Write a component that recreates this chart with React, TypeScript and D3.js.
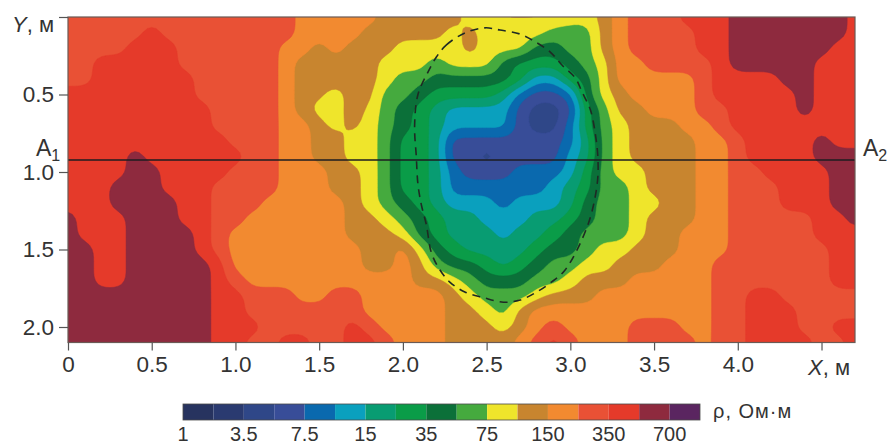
import React, { useEffect, useRef } from 'react';
import * as d3 from 'd3';

// band edges of the colour scale, Ohm*m
const thresholds = [1, 2, 3.5, 5, 7.5, 10, 15, 25, 35, 50, 75, 100, 150, 250, 350, 500, 700, 1000];
const bandColors = ['#27335f', '#2a3a70', '#2f4788', '#384d98', '#0a69ae', '#0aa0be', '#089c72', '#0a9c48', '#0b7039', '#45aa3e', '#efe52b', '#c8852f', '#f28a30', '#e95135', '#e53a2a', '#8e2a3e', '#5a2560'];
const legendLabels = ['1', '3.5', '7.5', '15', '35', '75', '150', '350', '700'];
const xTicks = [0, 0.5, 1, 1.5, 2, 2.5, 3, 3.5, 4, 4.5];
const yTicks = [0, 0.5, 1, 1.5, 2];

// resistivity, one row per 0.1 m of Y, one value per 0.1 m of X
const rho00 = [300, 300, 300, 300, 300, 300, 300, 300, 300, 300, 300, 300, 300, 300, 200, 200, 200, 200, 200, 120, 120, 120, 120, 120, 87, 87, 105, 105, 105, 105, 87, 87, 120, 200, 300, 300, 300, 420, 420, 420, 600, 600, 600, 600, 600, 600, 600, 420];
const rho01 = [300, 300, 300, 300, 300, 420, 300, 300, 300, 300, 300, 300, 300, 300, 200, 200, 200, 200, 120, 120, 120, 120, 120, 87, 120, 87, 87, 87, 87, 60, 60, 60, 120, 200, 300, 300, 300, 300, 420, 420, 600, 600, 600, 600, 600, 600, 600, 420];
const rho02 = [300, 300, 300, 300, 420, 420, 420, 300, 300, 300, 300, 300, 300, 200, 200, 120, 200, 120, 120, 120, 87, 87, 87, 87, 120, 87, 87, 87, 42, 42, 60, 60, 120, 200, 300, 300, 300, 300, 420, 420, 600, 600, 600, 600, 600, 600, 420, 420];
const rho03 = [300, 300, 420, 420, 420, 420, 420, 300, 300, 300, 300, 300, 300, 200, 120, 120, 120, 120, 120, 87, 87, 87, 60, 87, 87, 87, 42, 30, 30, 30, 42, 60, 87, 200, 200, 300, 300, 300, 300, 420, 600, 600, 600, 600, 600, 420, 420, 420];
const rho04 = [300, 300, 420, 420, 420, 420, 420, 420, 300, 300, 300, 300, 300, 200, 120, 120, 120, 120, 120, 87, 60, 60, 42, 42, 42, 42, 42, 30, 12, 12, 30, 42, 87, 200, 200, 200, 200, 200, 300, 420, 420, 420, 420, 600, 600, 420, 420, 420];
const rho05 = [420, 420, 420, 420, 420, 420, 420, 420, 300, 300, 300, 300, 300, 200, 120, 110, 87, 120, 120, 60, 60, 42, 30, 30, 30, 30, 20, 8.7, 6, 6, 8.7, 42, 87, 120, 200, 200, 200, 200, 300, 420, 420, 420, 420, 420, 600, 420, 420, 420];
const rho06 = [420, 420, 420, 420, 420, 420, 420, 420, 420, 300, 300, 300, 300, 200, 120, 87, 87, 125, 95, 60, 42, 30, 20, 12, 12, 12, 12, 6, 4.2, 4.2, 6, 30, 60, 120, 120, 200, 200, 200, 300, 300, 420, 420, 420, 420, 600, 420, 420, 420];
const rho07 = [420, 420, 420, 420, 420, 420, 420, 420, 420, 300, 300, 300, 300, 200, 200, 115, 90, 115, 87, 60, 42, 30, 20, 12, 12, 12, 12, 6, 4.2, 4.2, 8.7, 30, 60, 87, 120, 120, 120, 200, 200, 300, 420, 420, 420, 420, 420, 420, 420, 420];
const rho08 = [420, 420, 420, 420, 420, 420, 420, 420, 420, 420, 300, 300, 300, 200, 200, 120, 120, 87, 87, 60, 30, 30, 20, 6, 6, 6, 6, 6, 6, 6, 8.7, 20, 60, 87, 120, 120, 120, 120, 200, 200, 300, 420, 420, 420, 420, 600, 420, 420];
const rho09 = [420, 420, 420, 420, 600, 420, 420, 420, 420, 420, 420, 300, 300, 200, 200, 120, 120, 87, 87, 60, 30, 30, 20, 6, 6, 4.2, 6, 6, 6, 6, 12, 20, 60, 87, 120, 120, 120, 120, 200, 200, 300, 420, 420, 420, 420, 600, 600, 600];
const rho10 = [420, 420, 420, 420, 600, 600, 420, 420, 420, 420, 300, 300, 300, 200, 200, 200, 120, 120, 87, 60, 30, 30, 20, 8.7, 6, 6, 6, 8.7, 8.7, 8.7, 12, 30, 60, 87, 87, 120, 120, 120, 200, 200, 300, 300, 420, 420, 420, 420, 600, 600];
const rho11 = [420, 420, 420, 600, 600, 600, 420, 420, 420, 300, 300, 300, 300, 200, 200, 200, 120, 120, 87, 60, 30, 30, 20, 8.7, 8.7, 8.7, 8.7, 8.7, 8.7, 12, 20, 30, 60, 60, 87, 120, 120, 120, 200, 200, 300, 300, 300, 420, 420, 420, 600, 600];
const rho12 = [420, 420, 420, 600, 600, 600, 600, 420, 420, 300, 300, 300, 200, 200, 200, 200, 200, 120, 87, 60, 42, 30, 20, 12, 12, 12, 8.7, 12, 12, 12, 20, 42, 60, 60, 87, 87, 120, 120, 200, 200, 300, 300, 300, 420, 420, 420, 600, 600];
const rho13 = [600, 420, 420, 420, 600, 600, 600, 420, 420, 300, 300, 200, 200, 200, 200, 200, 200, 120, 120, 87, 60, 42, 30, 20, 20, 12, 12, 12, 20, 20, 30, 42, 60, 60, 87, 120, 120, 120, 200, 200, 300, 300, 300, 300, 300, 420, 420, 600];
const rho14 = [600, 420, 420, 420, 600, 600, 600, 600, 420, 300, 200, 200, 200, 200, 200, 200, 200, 120, 120, 120, 87, 42, 30, 20, 20, 20, 12, 20, 20, 30, 42, 60, 60, 60, 87, 120, 120, 200, 200, 200, 300, 300, 300, 300, 300, 420, 420, 420];
const rho15 = [600, 600, 420, 420, 600, 600, 600, 600, 420, 300, 200, 200, 200, 200, 200, 200, 200, 200, 120, 120, 200, 87, 42, 30, 20, 20, 20, 20, 30, 42, 42, 60, 87, 87, 120, 120, 120, 200, 200, 200, 300, 300, 300, 300, 300, 300, 420, 420];
const rho16 = [600, 600, 420, 420, 600, 600, 600, 600, 600, 420, 200, 200, 200, 200, 200, 200, 200, 200, 120, 120, 200, 120, 60, 42, 42, 30, 20, 30, 42, 60, 60, 87, 87, 120, 120, 120, 200, 200, 200, 300, 300, 300, 300, 300, 300, 300, 420, 420];
const rho17 = [600, 600, 420, 420, 600, 600, 600, 600, 600, 420, 300, 200, 200, 200, 200, 200, 200, 200, 200, 200, 200, 120, 120, 87, 60, 42, 42, 42, 60, 60, 87, 120, 120, 120, 200, 200, 200, 200, 200, 300, 300, 300, 300, 300, 300, 300, 420, 420];
const rho18 = [600, 600, 600, 600, 600, 600, 600, 600, 600, 420, 420, 300, 300, 300, 200, 200, 300, 300, 200, 200, 200, 200, 200, 120, 87, 60, 60, 60, 87, 120, 120, 120, 200, 200, 200, 200, 200, 200, 200, 300, 300, 420, 420, 300, 300, 300, 300, 300];
const rho19 = [600, 600, 600, 600, 600, 600, 600, 600, 600, 420, 420, 300, 300, 300, 300, 300, 300, 300, 200, 200, 200, 200, 200, 120, 120, 87, 60, 120, 200, 200, 200, 200, 200, 200, 200, 200, 200, 200, 200, 300, 300, 420, 420, 420, 300, 300, 300, 300];
const rho20 = [600, 600, 600, 600, 600, 600, 600, 600, 600, 420, 420, 420, 300, 300, 300, 300, 300, 420, 300, 200, 200, 200, 200, 120, 120, 120, 87, 120, 200, 300, 200, 200, 200, 200, 300, 300, 300, 200, 200, 300, 300, 420, 420, 420, 300, 300, 420, 420];
const rho21 = [600, 600, 600, 600, 600, 600, 600, 600, 600, 420, 420, 300, 300, 420, 420, 300, 300, 420, 420, 300, 200, 200, 200, 120, 120, 120, 120, 200, 300, 420, 300, 200, 200, 200, 300, 300, 300, 300, 200, 300, 300, 420, 420, 420, 420, 300, 300, 420];
const rhoRows = [rho00, rho01, rho02, rho03, rho04, rho05, rho06, rho07, rho08, rho09, rho10, rho11, rho12, rho13, rho14, rho15, rho16, rho17, rho18, rho19, rho20, rho21];

// dashed outline of the body, metres
const outlineX = [2.2, 2.26, 2.37, 2.49, 2.58, 2.7, 2.79, 2.88, 2.95, 3.03, 3.07, 3.12, 3.15, 3.165, 3.16, 3.105, 2.97, 2.88, 2.79, 2.7, 2.6, 2.48, 2.37, 2.28, 2.22, 2.17, 2.14, 2.11, 2.09, 2.08, 2.07, 2.09, 2.15];
const outlineY = [0.258, 0.18, 0.103, 0.07, 0.084, 0.11, 0.16, 0.226, 0.31, 0.394, 0.484, 0.6, 0.76, 0.92, 1.08, 1.34, 1.63, 1.716, 1.78, 1.826, 1.84, 1.81, 1.774, 1.71, 1.63, 1.52, 1.34, 1.21, 1.08, 0.9, 0.7, 0.5, 0.355];

const profileY = 0.923;

const font = '"Liberation Sans", Arial, sans-serif';
const textColor = '#333';

const UP = 4; // grid refinement before contouring

export default function App() {
    const ref = useRef<SVGSVGElement>(null);

    useEffect(() => {
        const svg = d3.select(ref.current);
        svg.selectAll('*').remove();

        const x = d3.scaleLinear().domain([0, 4.7]).range([68, 855]);
        const y = d3.scaleLinear().domain([0, 2.1]).range([17, 342.5]);

        svg.append('clipPath').attr('id', 'plot')
            .append('rect')
            .attr('x', x(0)).attr('y', y(0))
            .attr('width', x(4.7) - x(0)).attr('height', y(2.1) - y(0));

        // piecewise log position inside the colour bands
        const bandPos = d3.scaleLinear()
            .domain(thresholds.map(Math.log))
            .range(thresholds.map((d, i) => i));

        const nx = rhoRows[0].length;
        const ny = rhoRows.length;
        const coarse = rhoRows.map(row => row.map(v => bandPos(Math.log(v))));

        // refine the grid so the contours do not stair-step
        const fx = (nx - 1) * UP + 1;
        const fy = (ny - 1) * UP + 1;
        const values = new Float64Array(fx * fy);
        for (let j = 0; j < fy; ++j) {
            const j0 = Math.min(Math.floor(j / UP), ny - 2);
            const tj = j / UP - j0;
            for (let i = 0; i < fx; ++i) {
                const i0 = Math.min(Math.floor(i / UP), nx - 2);
                const ti = i / UP - i0;
                values[j * fx + i] =
                    (1 - tj) * ((1 - ti) * coarse[j0][i0] + ti * coarse[j0][i0 + 1]) +
                    tj * ((1 - ti) * coarse[j0 + 1][i0] + ti * coarse[j0 + 1][i0 + 1]);
            }
        }
        d3.blur2({ data: values, width: fx, height: fy }, 1);

        const levels = d3.range(0, bandColors.length);
        const contours = d3.contours().size([fx, fy]).thresholds(levels)(Array.from(values));

        // contour space has the sample i at i + 0.5
        const projection = d3.geoTransform({
            point(px, py) {
                this.stream.point(x((px - 0.5) * 0.1 / UP), y((py - 0.5) * 0.1 / UP));
            },
        });
        const path = d3.geoPath(projection);

        const map = svg.append('g').attr('clip-path', 'url(#plot)');
        map.selectAll('path')
            .data(contours)
            .join('path')
            .attr('d', path)
            .attr('fill', d => bandColors[d.value])
            .attr('stroke', d => bandColors[d.value])
            .attr('stroke-width', 0.5);

        // profile line A1-A2
        svg.append('line')
            .attr('x1', x(0)).attr('x2', x(4.7))
            .attr('y1', y(profileY)).attr('y2', y(profileY))
            .attr('stroke', '#1c1c20').attr('stroke-width', 1.6);

        const outline = d3.line()
            .x((d, i) => x(outlineX[i]))
            .y((d, i) => y(outlineY[i]))
            .curve(d3.curveCatmullRomClosed);
        svg.append('path')
            .attr('d', outline(outlineX.map(() => [0, 0])))
            .attr('fill', 'none')
            .attr('stroke', '#1f2a24')
            .attr('stroke-width', 1.6)
            .attr('stroke-dasharray', '8 6');

        // frame
        svg.append('rect')
            .attr('x', x(0)).attr('y', y(0))
            .attr('width', x(4.7) - x(0)).attr('height', y(2.1) - y(0))
            .attr('fill', 'none').attr('stroke', '#6a5a55').attr('stroke-width', 1.2);

        // axes
        const styleAxis = g => {
            g.select('.domain').remove();
            g.selectAll('.tick line').attr('stroke', '#555').attr('stroke-width', 1.2);
            g.selectAll('.tick text')
                .attr('font-family', font).attr('font-size', 22.5).attr('fill', textColor);
        };
        svg.append('g')
            .attr('transform', `translate(0,${y(2.1)})`)
            .call(d3.axisBottom(x).tickValues(xTicks).tickSize(8).tickPadding(6)
                .tickFormat(d => (d === 0 ? '0' : d === 4.5 ? '' : d3.format('.1f')(d))))
            .call(styleAxis);
        svg.append('g')
            .attr('transform', `translate(${x(0)},0)`)
            .call(d3.axisLeft(y).tickValues(yTicks).tickSize(9).tickPadding(5)
                .tickFormat(d => (d === 0 ? '' : d3.format('.1f')(d))))
            .call(styleAxis);

        const label = (px, py, size = 22) => svg.append('text')
            .attr('x', px).attr('y', py)
            .attr('font-family', font).attr('font-size', size).attr('fill', textColor);

        const yLabel = label(12, 32);
        yLabel.append('tspan').attr('font-style', 'italic').text('Y');
        yLabel.append('tspan').text(', м');

        const xLabel = label(808, 375);
        xLabel.append('tspan').attr('font-style', 'italic').text('X');
        xLabel.append('tspan').text(', м');

        const a1 = label(36, 156, 23);
        a1.append('tspan').text('A');
        a1.append('tspan').attr('font-size', 16).attr('dy', 5).text('1');

        const a2 = label(863, 156, 23);
        a2.append('tspan').text('A');
        a2.append('tspan').attr('font-size', 16).attr('dy', 5).text('2');

        // colour bar
        const legendX = d3.scaleLinear().domain([0, bandColors.length]).range([183, 700]);
        svg.append('g').selectAll('rect')
            .data(bandColors)
            .join('rect')
            .attr('x', (d, i) => legendX(i))
            .attr('y', 404)
            .attr('width', (d, i) => legendX(i + 1) - legendX(i))
            .attr('height', 16)
            .attr('fill', d => d);
        svg.append('rect')
            .attr('x', 183).attr('y', 404)
            .attr('width', 517).attr('height', 16)
            .attr('fill', 'none').attr('stroke', '#4a4a4a').attr('stroke-width', 0.8);

        svg.append('g').selectAll('text')
            .data(legendLabels)
            .join('text')
            .attr('x', (d, i) => legendX(i * 2))
            .attr('y', 441)
            .attr('text-anchor', 'middle')
            .attr('font-family', font).attr('font-size', 20).attr('fill', textColor)
            .text(d => d);

        label(713, 418, 20).attr('letter-spacing', 1).text('ρ, Ом·м');
    }, []);

    return (
        <svg
            ref={ref}
            width={891}
            height={445}
            style={{ position: 'absolute', left: 0, top: 0, background: '#fff' }}
        />
    );
}
